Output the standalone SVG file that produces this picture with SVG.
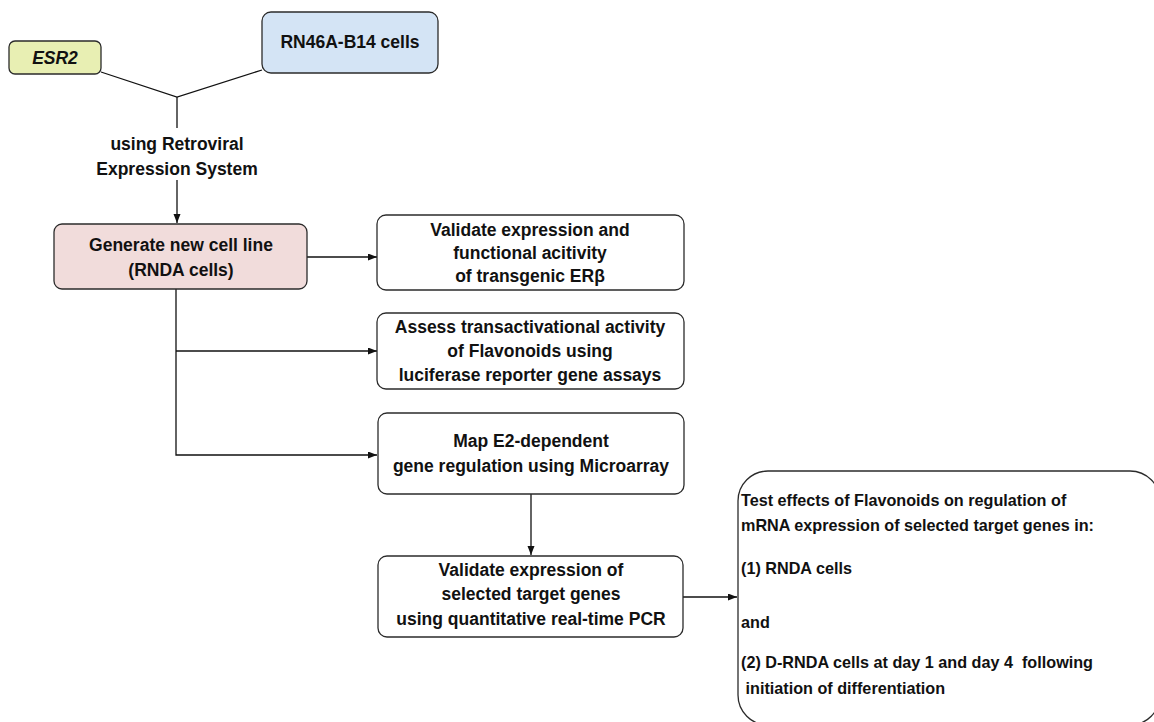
<svg xmlns="http://www.w3.org/2000/svg" width="1154" height="722" viewBox="0 0 1154 722">
<style>
.box{stroke:#2b2b2b;stroke-width:1.3}
.t{font-family:"Liberation Sans",Arial,sans-serif;font-weight:bold;font-size:17.5px;fill:#111;text-anchor:middle}
.tl{font-family:"Liberation Sans",Arial,sans-serif;font-weight:bold;font-size:16.2px;fill:#111}
.c{fill:none;stroke:#111;stroke-width:1.3}
</style>
<defs>
<marker id="ah" markerUnits="userSpaceOnUse" markerWidth="10" markerHeight="8" refX="9" refY="3.5" orient="auto">
<path d="M0,0 L9,3.5 L0,7 z" fill="#111"/>
</marker>
</defs>
<rect width="1154" height="722" fill="#fff"/>
<g id="connectors">
<path class="c" d="M101,72 L177,97 L262,70"/>
<path class="c" d="M177,97 V128"/>
<path class="c" d="M177,180 V223" marker-end="url(#ah)"/>
<path class="c" d="M307,257 H377" marker-end="url(#ah)"/>
<path class="c" d="M176,289 V455 H377" marker-end="url(#ah)"/>
<path class="c" d="M176,351 H377" marker-end="url(#ah)"/>
<path class="c" d="M531,494 V555" marker-end="url(#ah)"/>
<path class="c" d="M683,597 H737" marker-end="url(#ah)"/>
</g>
<g id="label-retroviral">
<text class="t" x="177" y="150">using Retroviral</text>
<text class="t" x="177" y="175">Expression System</text>
</g>
<g id="esr2">
<rect class="box" x="9" y="41" width="92" height="33" rx="6" fill="#e8efb3"/>
<text class="t" x="55" y="64" font-style="italic">ESR2</text>
</g>
<g id="rn46a">
<rect class="box" x="262" y="12" width="176" height="61" rx="9" fill="#d4e4f5"/>
<text class="t" x="350" y="48">RN46A-B14 cells</text>
</g>
<g id="generate">
<rect class="box" x="54" y="224" width="253" height="65" rx="8" fill="#f1dcdb"/>
<text class="t" x="181" y="251">Generate new cell line</text>
<text class="t" x="181" y="276">(RNDA cells)</text>
</g>
<g id="validate-erb">
<rect class="box" x="377" y="215" width="307" height="75" rx="9" fill="#fff"/>
<text class="t" x="530" y="236">Validate expression and</text>
<text class="t" x="530" y="259">functional acitivity</text>
<text class="t" x="530" y="282">of transgenic ERβ</text>
</g>
<g id="assess">
<rect class="box" x="377" y="313" width="307" height="76" rx="9" fill="#fff"/>
<text class="t" x="530" y="333">Assess transactivational activity</text>
<text class="t" x="530" y="357">of Flavonoids using</text>
<text class="t" x="530" y="381">luciferase reporter gene assays</text>
</g>
<g id="map">
<rect class="box" x="378" y="413" width="306" height="81" rx="9" fill="#fff"/>
<text class="t" x="531" y="447">Map E2-dependent</text>
<text class="t" x="531" y="472">gene regulation using Microarray</text>
</g>
<g id="qpcr">
<rect class="box" x="378" y="556" width="305" height="81" rx="9" fill="#fff"/>
<text class="t" x="531" y="576">Validate expression of</text>
<text class="t" x="531" y="600">selected target genes</text>
<text class="t" x="531" y="625">using quantitative real-time PCR</text>
</g>
<g id="test-effects">
<rect class="box" x="738" y="471" width="422" height="254" rx="30" fill="#fff"/>
<text class="tl" x="741" y="506">Test effects of Flavonoids on regulation of</text>
<text class="tl" x="741" y="531">mRNA expression of selected target genes in:</text>
<text class="tl" x="741" y="574">(1) RNDA cells</text>
<text class="tl" x="741" y="628">and</text>
<text class="tl" x="741" y="668" xml:space="preserve">(2) D-RNDA cells at day 1 and day 4  following</text>
<text class="tl" x="741" y="694" xml:space="preserve"> initiation of differentiation</text>
</g>
</svg>
